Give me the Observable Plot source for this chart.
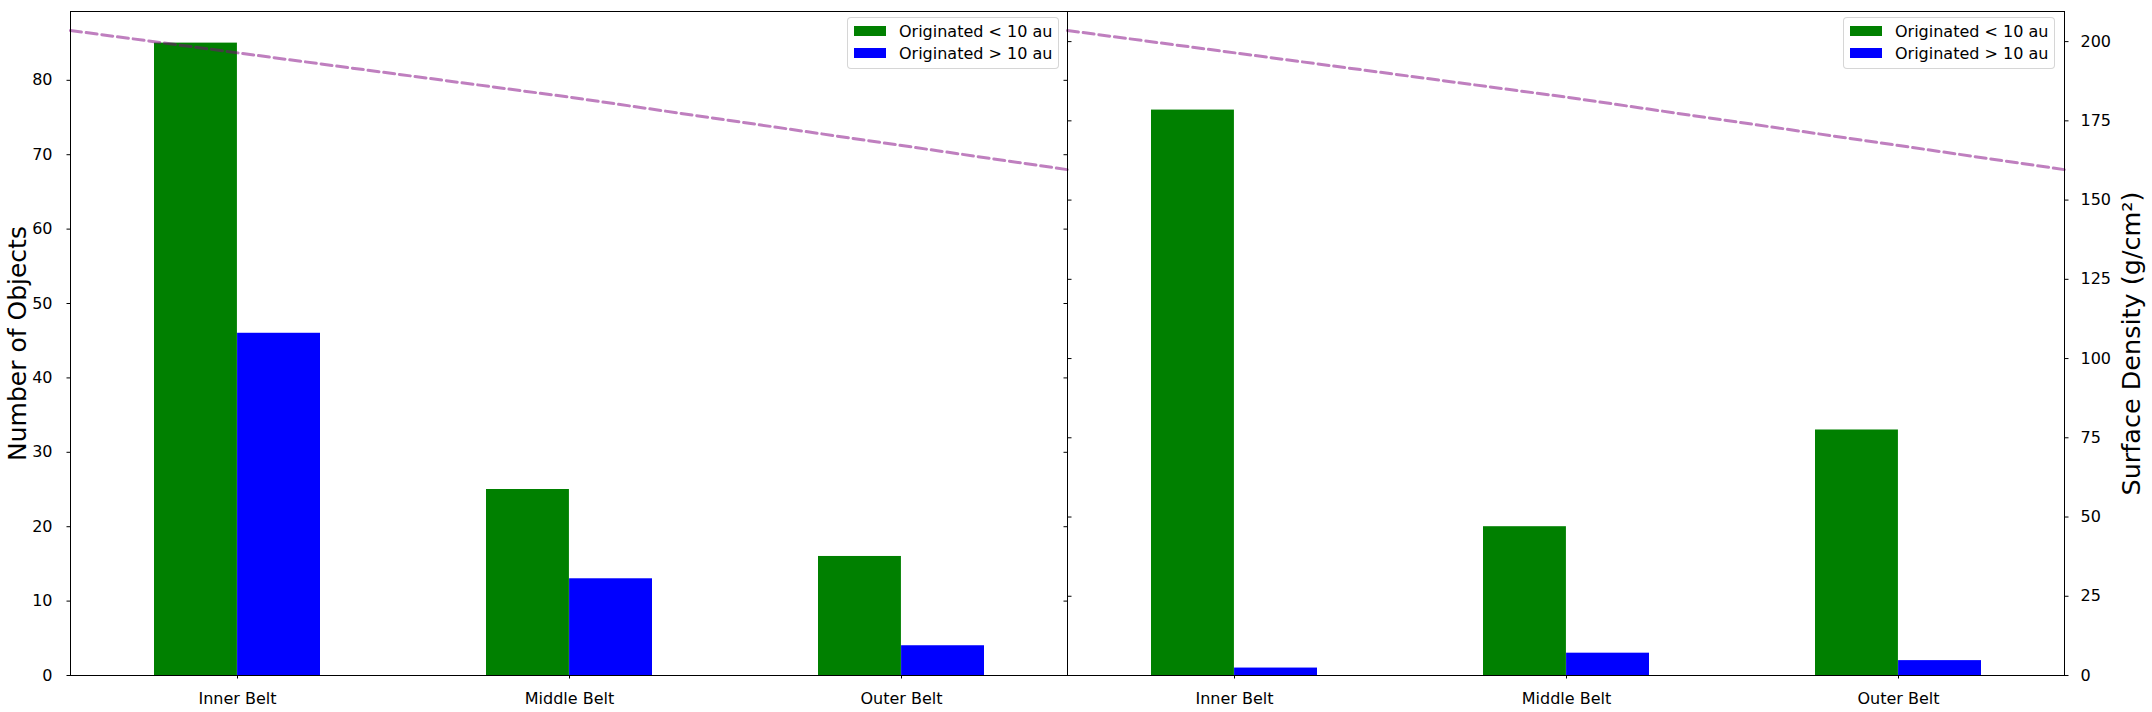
<!DOCTYPE html>
<html>
<head>
<meta charset="utf-8">
<script src="https://cdn.jsdelivr.net/npm/d3@7"></script>
<script src="https://cdn.jsdelivr.net/npm/@observablehq/plot@0.6"></script>
<style>
  html, body { margin: 0; padding: 0; background: white; }
  #chart { position: relative; width: 2152px; height: 712px; font-family: "DejaVu Sans", sans-serif; }
  .layer { position: absolute; top: 0; }
  .layer svg { max-width: none !important; }
  .legend { position: absolute; box-sizing: border-box; width: 212px; height: 52px;
    border: 1px solid rgba(204,204,204,0.8); border-radius: 4px; background: rgba(255,255,255,0.8);
    font-size: 16px; color: black; }
  .legend .row { position: absolute; left: 6px; height: 20px; display: flex; align-items: center; white-space: nowrap; }
  .legend .sw { width: 32px; height: 10px; margin-right: 13px; }
</style>
</head>
<body>
<div id="chart"></div>
<script>
// ---- data ----
const belts = ["Inner Belt", "Middle Belt", "Outer Belt"];
const seriesNames = ["Originated < 10 au", "Originated > 10 au"];
const seriesColors = ["green", "blue"];
const leftInnerOrigin = [85, 25, 16];
const leftOuterOrigin = [46, 13, 4];
const rightInnerOrigin = [76, 20, 33];
const rightOuterOrigin = [1, 3, 2];
const densityPos = [0, 0.5, 1];
const densityValues = [203.5, 182.5, 159.6];
const countTicks = [0, 10, 20, 30, 40, 50, 60, 70, 80];
const densityTicks = [0, 25, 50, 75, 100, 125, 150, 175, 200];
const countLabel = "Number of Objects";
const densityLabel = "Surface Density (g/cm²)";

// ---- layout ----
const H = 712, mTop = 11, mBottom = 37, leftM = 70, panelW = 997, rightM = 88;
const half = panelW / belts.length * 0.5 / 2;
const countDomain = [0, 89.25];
const densityDomain = [0, 209.5];
const font = {fontFamily: "DejaVu Sans", fontSize: "16px", color: "black", overflow: "visible", background: "transparent"};

const chart = document.getElementById("chart");
function layer(node, left) {
  const d = document.createElement("div");
  d.className = "layer";
  d.style.left = left + "px";
  d.appendChild(node);
  chart.appendChild(d);
}

function barsPanel(inner, outer, showLabels, ml, mr) {
  const rows0 = belts.map((b, i) => ({belt: b, value: inner[i]}));
  const rows1 = belts.map((b, i) => ({belt: b, value: outer[i]}));
  const marks = [
    Plot.barY(rows0, {x: "belt", y: "value", fill: seriesColors[0], insetRight: half}),
    Plot.barY(rows1, {x: "belt", y: "value", fill: seriesColors[1], insetLeft: half}),
    Plot.axisX({tickSize: 3.5, tickPadding: 13.2, fontSize: 16, label: null}),
    Plot.axisY({ticks: countTicks, tickSize: 3.5, tickPadding: 14.5, fontSize: 16, label: null,
      tickFormat: showLabels ? (d => d) : (() => "")})
  ];
  if (showLabels) {
    marks.push(Plot.text([countLabel], {text: d => d, frameAnchor: "left", rotate: -90, dx: -53,
      fontSize: 25, textAnchor: "middle", lineAnchor: "middle", fill: "black"}));
  }
  return Plot.plot({
    width: ml + panelW + mr, height: H,
    marginLeft: ml, marginRight: mr, marginTop: mTop, marginBottom: mBottom,
    style: font,
    x: {domain: belts, paddingInner: 0.5, paddingOuter: 0.25},
    y: {domain: countDomain},
    marks
  });
}

function densityPanel(showLabels, ml, mr) {
  const rows = densityPos.map((p, i) => ({pos: p, density: densityValues[i]}));
  const marks = [
    Plot.line(rows, {x: "pos", y: "density", stroke: "purple", strokeOpacity: 0.5,
      strokeWidth: 3, strokeDasharray: "11,4.8"}),
    Plot.axisY({anchor: "right", ticks: densityTicks, tickSize: 3.5, tickPadding: 12.5, fontSize: 16,
      label: null, tickFormat: showLabels ? (d => d) : (() => "")}),
    Plot.frame({stroke: "black", strokeWidth: 1})
  ];
  if (showLabels) {
    marks.push(Plot.text([densityLabel], {text: d => d, frameAnchor: "right", rotate: -90, dx: 67,
      fontSize: 25.5, textAnchor: "middle", lineAnchor: "middle", fill: "black"}));
  }
  return Plot.plot({
    width: ml + panelW + mr, height: H,
    marginLeft: ml, marginRight: mr, marginTop: mTop, marginBottom: mBottom,
    style: font,
    x: {domain: [0, 1], axis: null},
    y: {domain: densityDomain, axis: null},
    marks
  });
}

layer(barsPanel(leftInnerOrigin, leftOuterOrigin, true, leftM, 0), 0);
layer(densityPanel(false, leftM, 0), 0);
layer(barsPanel(rightInnerOrigin, rightOuterOrigin, false, 0, rightM), leftM + panelW);
layer(densityPanel(true, 0, rightM), leftM + panelW);

function legend(left) {
  const box = document.createElement("div");
  box.className = "legend";
  box.style.left = left + "px";
  box.style.top = "17px";
  seriesNames.forEach((name, i) => {
    const row = document.createElement("div");
    row.className = "row";
    row.style.top = (3 + i * 22) + "px";
    const sw = document.createElement("div");
    sw.className = "sw";
    sw.style.background = seriesColors[i];
    const t = document.createElement("span");
    t.textContent = name;
    row.appendChild(sw);
    row.appendChild(t);
    box.appendChild(row);
  });
  chart.appendChild(box);
}
legend(847);
legend(1843);
</script>
</body>
</html>
